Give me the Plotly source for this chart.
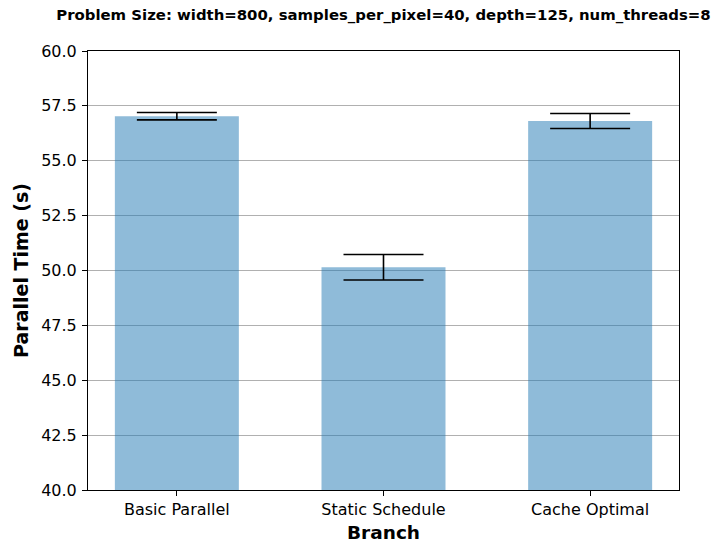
import plotly.graph_objects as go

branches = ["Basic Parallel", "Static Schedule", "Cache Optimal"]
mean_time = [57.03, 50.15, 56.81]
std_time = [0.17, 0.58, 0.34]

title_text = "Problem Size: width=800, samples_per_pixel=40, depth=125, num_threads=8"
x_label = "Branch"
y_label = "Parallel Time (s)"

fig = go.Figure()
fig.add_trace(go.Bar(
    x=list(range(len(branches))),
    y=mean_time,
    width=0.6,
    marker=dict(color="rgba(31,119,180,0.5)", line=dict(width=0)),
    error_y=dict(type="data", array=std_time, visible=True,
                 color="black", thickness=1.6, width=40),
))

axis_font = dict(family="DejaVu Sans", size=16, color="black")
label_font = dict(family="DejaVu Sans", size=19, color="black")
plot_h = 542 - 51 - 52

fig.update_layout(
    width=712, height=542,
    margin=dict(l=88, r=33, t=51, b=52, autoexpand=False),
    paper_bgcolor="white", plot_bgcolor="white",
    showlegend=False,
    font=axis_font,
    title=dict(text="<b>" + title_text + "</b>", x=(88 + 679) / 2 / 712,
               xanchor="center", y=1 - 15 / 542, yanchor="middle",
               font=dict(family="DejaVu Sans", size=14.9, color="black")),
    xaxis=dict(
        tickmode="array", tickvals=list(range(len(branches))), ticktext=branches,
        range=[-0.43, 2.43], showgrid=False, zeroline=False, automargin=False,
        showline=True, linecolor="black", linewidth=1, mirror=True,
        ticks="outside", ticklen=5, tickcolor="black", tickfont=axis_font,
    ),
    yaxis=dict(
        range=[40, 60], dtick=2.5, tick0=40, tickformat=".1f", automargin=False,
        showgrid=True, gridcolor="#b0b0b0", gridwidth=1.2, zeroline=False,
        showline=True, linecolor="black", linewidth=1, mirror=True,
        ticks="outside", ticklen=5, tickcolor="black", tickfont=axis_font,
        ticklabelstandoff=2,
        title=dict(text="<b>" + y_label + "</b>", standoff=7, font=label_font),
    ),
    annotations=[dict(
        text="<b>" + x_label + "</b>", xref="paper", yref="paper",
        x=0.5, y=-42 / plot_h, xanchor="center", yanchor="middle",
        showarrow=False, borderpad=0,
        font=dict(family="DejaVu Sans", size=18.5, color="black"),
    )],
)

fig.write_html("out.html")
